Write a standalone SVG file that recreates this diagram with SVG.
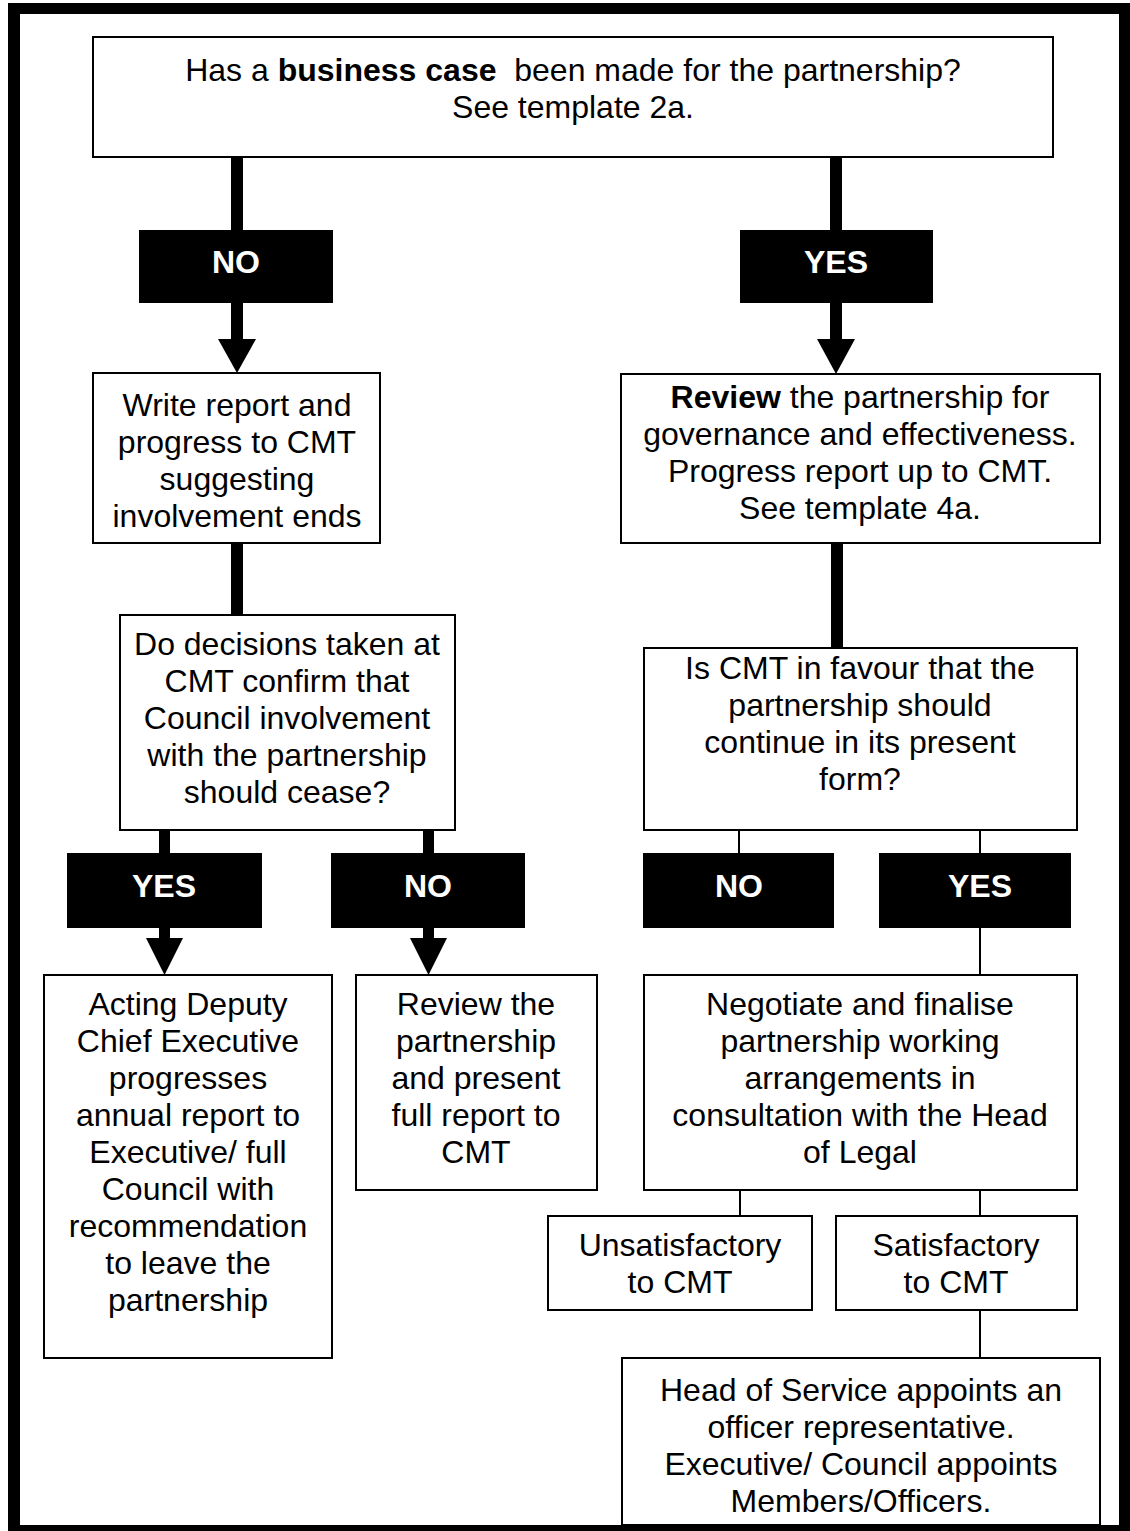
<svg xmlns="http://www.w3.org/2000/svg" width="1130" height="1531" viewBox="0 0 1130 1531">
<style>
.box{fill:#fff;stroke:#000;stroke-width:2}
.lbl{fill:#000}
.t{font-family:"Liberation Sans",Arial,sans-serif;font-size:32px;fill:#000;text-anchor:middle}
.lt{font-family:"Liberation Sans",Arial,sans-serif;font-size:32px;font-weight:bold;fill:#fff;text-anchor:middle}
.b{font-weight:bold}
.thick{fill:#000}
.thin{stroke:#000;stroke-width:2;fill:none}
</style>
<rect x="0" y="0" width="1130" height="1531" fill="#fff"/>
<g id="frame">
<rect x="8" y="3" width="1122" height="11" fill="#000"/>
<rect x="8" y="3" width="12" height="1528" fill="#000"/>
<rect x="1119" y="3" width="11" height="1528" fill="#000"/>
<rect x="8" y="1525" width="1122" height="6" fill="#000"/>
</g>
<g id="connectors">
<rect class="thick" x="231" y="157" width="12" height="183"/>
<polygon class="thick" points="218,339 256,339 237,373"/>
<rect class="thick" x="830" y="157" width="12" height="183"/>
<polygon class="thick" points="817,339 855,339 836,374"/>
<rect class="thick" x="231" y="543" width="12" height="72"/>
<rect class="thick" x="831" y="543" width="12" height="106"/>
<rect class="thick" x="159" y="830" width="11" height="110"/>
<polygon class="thick" points="146,938 183,938 164.5,975"/>
<rect class="thick" x="423" y="830" width="11" height="110"/>
<polygon class="thick" points="410,938 447,938 428.5,975"/>
<line class="thin" x1="739" y1="830" x2="739" y2="854"/>
<line class="thin" x1="980" y1="830" x2="980" y2="975"/>
<line class="thin" x1="740" y1="1190" x2="740" y2="1216"/>
<line class="thin" x1="980" y1="1190" x2="980" y2="1216"/>
<line class="thin" x1="980" y1="1310" x2="980" y2="1358"/>
</g>
<g id="n_business_case">
<rect class="box" x="93" y="37" width="960" height="120"/>
<text class="t" x="573" y="81" xml:space="preserve">Has a <tspan class="b">business case</tspan>  been made for the partnership?</text>
<text class="t" x="573" y="118">See template 2a.</text>
</g>
<g id="l_no1">
<rect class="lbl" x="139" y="230" width="194" height="73"/>
<text class="lt" x="236" y="273">NO</text>
</g>
<g id="l_yes1">
<rect class="lbl" x="740" y="230" width="193" height="73"/>
<text class="lt" x="836" y="273">YES</text>
</g>
<g id="n_write_report">
<rect class="box" x="93" y="373" width="287" height="170"/>
<text class="t" x="237" y="416">Write report and</text>
<text class="t" x="237" y="453">progress to CMT</text>
<text class="t" x="237" y="490">suggesting</text>
<text class="t" x="237" y="527">involvement ends</text>
</g>
<g id="n_review">
<rect class="box" x="621" y="374" width="479" height="169"/>
<text class="t" x="860" y="408"><tspan class="b">Review</tspan> the partnership for</text>
<text class="t" x="860" y="445">governance and effectiveness.</text>
<text class="t" x="860" y="482">Progress report up to CMT.</text>
<text class="t" x="860" y="519">See template 4a.</text>
</g>
<g id="n_decisions">
<rect class="box" x="120" y="615" width="335" height="215"/>
<text class="t" x="287" y="655">Do decisions taken at</text>
<text class="t" x="287" y="692">CMT confirm that</text>
<text class="t" x="287" y="729">Council involvement</text>
<text class="t" x="287" y="766">with the partnership</text>
<text class="t" x="287" y="803">should cease?</text>
</g>
<g id="n_favour">
<rect class="box" x="644" y="648" width="433" height="182"/>
<text class="t" x="860" y="679">Is CMT in favour that the</text>
<text class="t" x="860" y="716">partnership should</text>
<text class="t" x="860" y="753">continue in its present</text>
<text class="t" x="860" y="790">form?</text>
</g>
<g id="l_yes2">
<rect class="lbl" x="67" y="853" width="195" height="75"/>
<text class="lt" x="164" y="897">YES</text>
</g>
<g id="l_no2">
<rect class="lbl" x="331" y="853" width="194" height="75"/>
<text class="lt" x="428" y="897">NO</text>
</g>
<g id="l_no3">
<rect class="lbl" x="643" y="853" width="191" height="75"/>
<text class="lt" x="739" y="897">NO</text>
</g>
<g id="l_yes3">
<rect class="lbl" x="879" y="853" width="192" height="75"/>
<text class="lt" x="980" y="897">YES</text>
</g>
<g id="n_acting">
<rect class="box" x="44" y="975" width="288" height="383"/>
<text class="t" x="188" y="1015">Acting Deputy</text>
<text class="t" x="188" y="1052">Chief Executive</text>
<text class="t" x="188" y="1089">progresses</text>
<text class="t" x="188" y="1126">annual report to</text>
<text class="t" x="188" y="1163">Executive/ full</text>
<text class="t" x="188" y="1200">Council with</text>
<text class="t" x="188" y="1237">recommendation</text>
<text class="t" x="188" y="1274">to leave the</text>
<text class="t" x="188" y="1311">partnership</text>
</g>
<g id="n_review_present">
<rect class="box" x="356" y="975" width="241" height="215"/>
<text class="t" x="476" y="1015">Review the</text>
<text class="t" x="476" y="1052">partnership</text>
<text class="t" x="476" y="1089">and present</text>
<text class="t" x="476" y="1126">full report to</text>
<text class="t" x="476" y="1163">CMT</text>
</g>
<g id="n_negotiate">
<rect class="box" x="644" y="975" width="433" height="215"/>
<text class="t" x="860" y="1015">Negotiate and finalise</text>
<text class="t" x="860" y="1052">partnership working</text>
<text class="t" x="860" y="1089">arrangements in</text>
<text class="t" x="860" y="1126">consultation with the Head</text>
<text class="t" x="860" y="1163">of Legal</text>
</g>
<g id="n_unsat">
<rect class="box" x="548" y="1216" width="264" height="94"/>
<text class="t" x="680" y="1256">Unsatisfactory</text>
<text class="t" x="680" y="1293">to CMT</text>
</g>
<g id="n_sat">
<rect class="box" x="836" y="1216" width="241" height="94"/>
<text class="t" x="956" y="1256">Satisfactory</text>
<text class="t" x="956" y="1293">to CMT</text>
</g>
<g id="n_head">
<rect class="box" x="622" y="1358" width="478" height="167"/>
<text class="t" x="861" y="1401">Head of Service appoints an</text>
<text class="t" x="861" y="1438">officer representative.</text>
<text class="t" x="861" y="1475">Executive/ Council appoints</text>
<text class="t" x="861" y="1512">Members/Officers.</text>
</g>
</svg>
